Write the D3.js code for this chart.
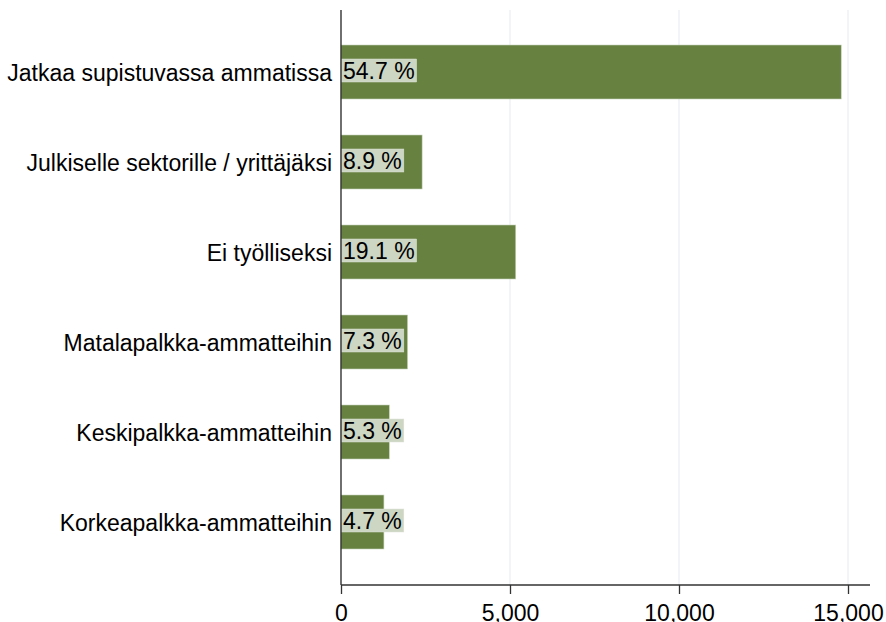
<!DOCTYPE html>
<html><head><meta charset="utf-8">
<script src="https://cdn.jsdelivr.net/npm/d3@7"></script>
<style>body{margin:0;background:#fff}svg{display:block}text{font-family:"Liberation Sans",Arial,sans-serif}</style>
</head><body><svg id="c" width="886" height="622"></svg>
<script>
const categories = ["Jatkaa supistuvassa ammatissa","Julkiselle sektorille / yrittäjäksi","Ei työlliseksi","Matalapalkka-ammatteihin","Keskipalkka-ammatteihin","Korkeapalkka-ammatteihin"];
const values = [14800, 2400, 5170, 1970, 1430, 1270];
const shareLabels = ["54.7 %","8.9 %","19.1 %","7.3 %","5.3 %","4.7 %"];
const xTicks = [0, 5000, 10000, 15000];

const FS = 23;
const svg = d3.select("#c");
const x0 = 341, xMaxPx = 848, axisY = 585, topY = 10;
const x = d3.scaleLinear().domain([0, 15000]).range([x0, xMaxPx]);
const y = d3.scaleBand().domain(categories).range([27, 567]).paddingInner(0.4).paddingOuter(0.2);

// gridlines
svg.append("g").selectAll("line").data(xTicks.slice(1)).join("line")
  .attr("x1", d => x(d)).attr("x2", d => x(d)).attr("y1", topY).attr("y2", axisY)
  .attr("stroke", "#eef1f5").attr("stroke-width", 1.5);

// bars
svg.append("g").selectAll("rect").data(values).join("rect")
  .attr("x", x(0)).attr("y", (d, i) => y(categories[i]))
  .attr("width", d => x(d) - x(0)).attr("height", y.bandwidth())
  .attr("fill", "#668140").attr("stroke", "#c9d4bd").attr("stroke-width", 0.6);

// labels
const lg = svg.append("g");
shareLabels.forEach((t, i) => {
  const cy = y(categories[i]) + y.bandwidth() / 2 - 1.5;
  const txt = lg.append("text").attr("x", x(0) + 2).attr("y", cy).attr("dy", "0.36em")
    .attr("font-size", FS).attr("fill", "#000").text(t);
  const w = txt.node().getComputedTextLength();
  lg.insert("rect", "text").attr("x", x(0)).attr("y", cy - 11.5).attr("width", w + 4).attr("height", 23)
    .attr("fill", "#ccd6c3").attr("stroke", "#dde3d6").attr("stroke-width", 0.5);
});

// y axis line
svg.append("line").attr("x1", x0).attr("x2", x0).attr("y1", topY).attr("y2", axisY)
  .attr("stroke", "#222").attr("stroke-width", 1.3);
// category labels
svg.append("g").selectAll("text").data(categories).join("text")
  .attr("x", 332).attr("y", d => y(d) + y.bandwidth() / 2 + 0.5).attr("dy", "0.36em")
  .attr("text-anchor", "end").attr("font-size", FS).attr("fill", "#000").text(d => d);

// x axis
const xa = svg.append("g").attr("transform", `translate(0,${axisY})`)
  .call(d3.axisBottom(x).tickValues(xTicks).tickSize(9).tickPadding(11).tickFormat(d3.format(",")));
xa.select(".domain").attr("d", `M${x0},0H870`).attr("stroke", "#333").attr("stroke-width", 1.3);
xa.selectAll(".tick line").attr("stroke", "#333").attr("stroke-width", 1.3);
xa.selectAll(".tick text").attr("font-size", FS).attr("fill", "#000").attr("font-family", "Liberation Sans, Arial, sans-serif");
</script></body></html>
